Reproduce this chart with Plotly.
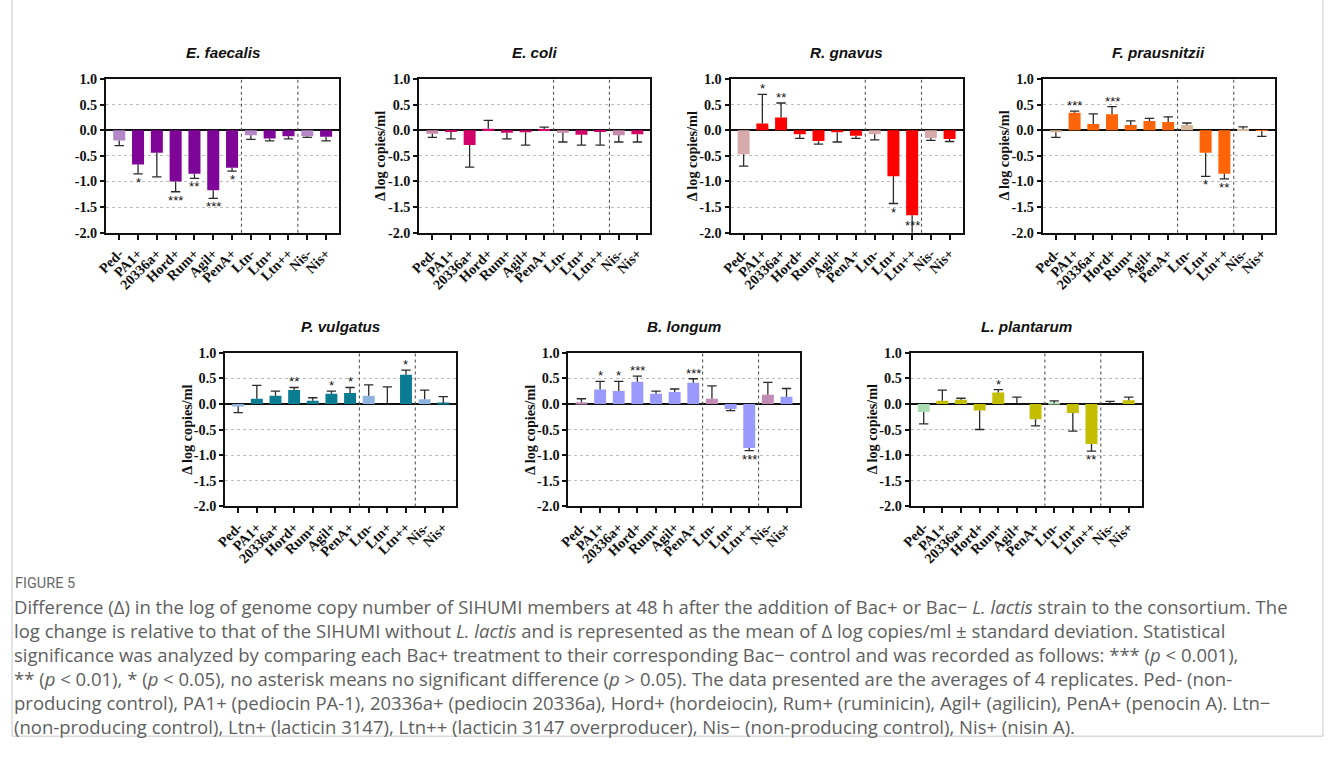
import plotly.graph_objects as go

W, H = 1328, 758

categories = ["Ped-", "PA1+", "20336a+", "Hord+", "Rum+", "Agil+", "PenA+",
              "Ltn-", "Ltn+", "Ltn++", "Nis-", "Nis+"]
is_control = [True, False, False, False, False, False, False,
              True, False, False, True, False]
y_tick_vals = [-2.0, -1.5, -1.0, -0.5, 0.0, 0.5, 1.0]
y_tick_text = ["-2.0", "-1.5", "-1.0", "-0.5", "0.0", "0.5", "1.0"]
group_breaks = [6.5, 9.5]

species = ["E. faecalis", "E. coli", "R. gnavus", "F. prausnitzii",
           "P. vulgatus", "B. longum", "L. plantarum"]

ef_mean = [-0.20, -0.67, -0.44, -1.00, -0.85, -1.17, -0.73, -0.10, -0.16, -0.12, -0.12, -0.13]
ef_sd = [0.10, 0.18, 0.47, 0.20, 0.09, 0.16, 0.07, 0.08, 0.05, 0.05, 0.02, 0.08]
ef_sig = ["", "*", "", "***", "**", "***", "*", "", "", "", "", ""]

ec_mean = [-0.07, -0.03, -0.29, 0.03, -0.05, -0.04, 0.02, -0.05, -0.09, -0.03, -0.10, -0.08]
ec_sd = [0.07, 0.14, 0.43, 0.16, 0.12, 0.25, 0.04, 0.18, 0.20, 0.26, 0.13, 0.15]
ec_sig = ["", "", "", "", "", "", "", "", "", "", "", ""]

rg_mean = [-0.47, 0.13, 0.25, -0.08, -0.21, -0.04, -0.11, -0.08, -0.90, -1.66, -0.15, -0.17]
rg_sd = [0.23, 0.57, 0.28, 0.08, 0.06, 0.19, 0.05, 0.11, 0.53, 0.40, 0.05, 0.05]
rg_sig = ["", "*", "**", "", "", "", "", "", "*", "***", "", ""]

fp_mean = [-0.04, 0.34, 0.12, 0.31, 0.10, 0.18, 0.16, 0.10, -0.44, -0.85, 0.02, -0.01]
fp_sd = [0.10, 0.03, 0.20, 0.15, 0.08, 0.05, 0.10, 0.04, 0.46, 0.10, 0.045, 0.11]
fp_sig = ["", "***", "", "***", "", "", "", "", "*", "**", "", ""]

pv_mean = [-0.05, 0.10, 0.16, 0.27, 0.06, 0.20, 0.21, 0.16, 0.00, 0.57, 0.09, 0.01]
pv_sd = [0.12, 0.26, 0.09, 0.05, 0.06, 0.05, 0.11, 0.21, 0.33, 0.09, 0.18, 0.13]
pv_sig = ["", "", "", "**", "", "*", "*", "", "", "*", "", ""]

bl_mean = [0.03, 0.28, 0.25, 0.43, 0.20, 0.23, 0.41, 0.10, -0.10, -0.86, 0.18, 0.14]
bl_sd = [0.07, 0.16, 0.19, 0.11, 0.05, 0.06, 0.08, 0.25, 0.03, 0.05, 0.24, 0.16]
bl_sig = ["", "*", "*", "***", "", "", "***", "", "", "***", "", ""]

lp_mean = [-0.16, 0.06, 0.08, -0.13, 0.22, 0.00, -0.30, 0.01, -0.18, -0.78, 0.00, 0.07]
lp_sd = [0.23, 0.21, 0.03, 0.37, 0.06, 0.13, 0.13, 0.05, 0.35, 0.14, 0.05, 0.06]
lp_sig = ["", "", "", "", "*", "", "", "", "", "**", "", ""]

means = [ef_mean, ec_mean, rg_mean, fp_mean, pv_mean, bl_mean, lp_mean]
sds = [ef_sd, ec_sd, rg_sd, fp_sd, pv_sd, bl_sd, lp_sd]
sigs = [ef_sig, ec_sig, rg_sig, fp_sig, pv_sig, bl_sig, lp_sig]

main_colors = ["#7E0597", "#D4006A", "#FF0000", "#FF6408", "#0B7D93", "#9A9AFC", "#C4BE00"]
ctrl_colors = ["#B488C7", "#C98BAB", "#D7ABAB", "#D8B89A", "#8EB3E0", "#C08CB5", "#A9DDB2"]

# panel placement in target-picture pixels: (left, right, top, bottom)
panels = [
    (104, 337, 78, 232), (417, 648, 78, 232), (728, 960, 78, 232), (1040, 1272, 78, 232),
    (223, 454, 352, 506), (566, 797, 352, 506), (908, 1139, 352, 506),
]
show_ytitle = [False, True, True, True, True, True, True]

SERIF = "Liberation Serif, Times New Roman, serif"
SANS = "Liberation Sans, Arial, sans-serif"

# the rendered page appears slightly inset / scaled in the photograph; compensate
OX, OY, SX, SY = 9.0, 7.0, 0.991, 0.980
FS = 1 / 0.985


def px(x):
    return ((x - OX) / SX) / W


def py(y):
    return 1 - ((y - OY) / SY) / H


fig = go.Figure()
annotations = []
shapes = []
layout_axes = {}

for k in range(7):
    idx = k + 1
    xa = "x" if idx == 1 else f"x{idx}"
    ya = "y" if idx == 1 else f"y{idx}"
    xname = "xaxis" if idx == 1 else f"xaxis{idx}"
    yname = "yaxis" if idx == 1 else f"yaxis{idx}"
    left, right, top, bottom = panels[k]
    m, s, sg = means[k], sds[k], sigs[k]
    xs = list(range(len(categories)))
    colors = [ctrl_colors[k] if c else main_colors[k] for c in is_control]

    fig.add_trace(go.Bar(x=xs, y=m, width=0.64, marker=dict(color=colors, line=dict(width=0)),
                         xaxis=xa, yaxis=ya, showlegend=False))

    ex, ey = [], []
    for i, (mv, sv) in enumerate(zip(m, s)):
        d = 1 if mv >= 0 else -1
        end = mv + d * sv
        ex += [i, i, None, i - 0.25, i + 0.25, None]
        ey += [mv, end, None, end, end, None]
        if sg[i]:
            if d > 0:
                ystar, anchor, shift = end, "bottom", -4
            else:
                ystar, anchor, shift = end, "top", 1
            if ystar < -1.9:
                ystar, anchor, shift = -2.0, "bottom", -2
            annotations.append(dict(x=i, y=ystar, xref=xa, yref=ya, text=sg[i], showarrow=False,
                                    yanchor=anchor, xanchor="center",
                                    font=dict(family=SANS, size=13 * FS, color="#111"),
                                    yshift=shift))
    fig.add_trace(go.Scatter(x=ex, y=ey, mode="lines", line=dict(color="#2A2A2A", width=1.3),
                             xaxis=xa, yaxis=ya, showlegend=False, hoverinfo="skip"))

    layout_axes[xname] = dict(domain=[px(left), px(right)], anchor=ya, range=[-0.7, 11.7],
                              tickmode="array", tickvals=xs, ticktext=categories, tickangle=-45,
                              ticks="outside", ticklen=5, tickwidth=1.8, tickcolor="#111",
                              showline=True, linecolor="#111", linewidth=2, mirror=True,
                              showgrid=False, zeroline=False,
                              tickfont=dict(family=SERIF, size=14 * FS, color="#111", weight="bold"))
    layout_axes[yname] = dict(domain=[py(bottom), py(top)], anchor=xa, range=[-2.0, 1.0],
                              tickmode="array", tickvals=y_tick_vals, ticktext=y_tick_text,
                              ticks="outside", ticklen=4, tickwidth=1.8, tickcolor="#111",
                              showline=True, linecolor="#111", linewidth=2, mirror=True,
                              showgrid=True, gridcolor="#BDBDBD", griddash="dot", gridwidth=1,
                              zeroline=True, zerolinecolor="#111", zerolinewidth=1.6,
                              tickfont=dict(family=SERIF, size=14 * FS, color="#111", weight="bold"))

    for b in group_breaks:
        shapes.append(dict(type="line", xref=xa, yref=f"{ya} domain", x0=b, x1=b, y0=0, y1=1,
                           line=dict(color="#555", width=1.1, dash="dot")))

    annotations.append(dict(x=px((left + right) / 2), y=py(top - 26), xref="paper", yref="paper",
                            text=f"<b><i>{species[k]}</i></b>", showarrow=False,
                            xanchor="center", yanchor="middle",
                            font=dict(family=SANS, size=15 * FS, color="#111")))
    if show_ytitle[k]:
        annotations.append(dict(x=px(left - 39), y=py((top + bottom) / 2), xref="paper", yref="paper",
                                text="<b>Δ log copies/ml</b>", showarrow=False, textangle=-90,
                                xanchor="center", yanchor="middle",
                                font=dict(family=SERIF, size=14 * FS, color="#111")))

# caption
caption_lines = [
    "Difference (Δ) in the log of genome copy number of SIHUMI members at 48 h after the addition of Bac+ or Bac− <i>L. lactis</i> strain to the consortium. The",
    "log change is relative to that of the SIHUMI without <i>L. lactis</i> and is represented as the mean of Δ log copies/ml ± standard deviation. Statistical",
    "significance was analyzed by comparing each Bac+ treatment to their corresponding Bac− control and was recorded as follows: *** (<i>p</i> &lt; 0.001),",
    "** (<i>p</i> &lt; 0.01), * (<i>p</i> &lt; 0.05), no asterisk means no significant difference (<i>p</i> &gt; 0.05). The data presented are the averages of 4 replicates. Ped- (non-",
    "producing control), PA1+ (pediocin PA-1), 20336a+ (pediocin 20336a), Hord+ (hordeiocin), Rum+ (ruminicin), Agil+ (agilicin), PenA+ (penocin A). Ltn−",
    "(non-producing control), Ltn+ (lacticin 3147), Ltn++ (lacticin 3147 overproducer), Nis− (non-producing control), Nis+ (nisin A).",
]
annotations.append(dict(x=px(11), y=py(583), xref="paper", yref="paper", text="FIGURE 5",
                        showarrow=False, xanchor="left", yanchor="middle",
                        font=dict(family="Roboto, sans-serif", size=14.5, color="#6A6A6A")))
for j, line in enumerate(caption_lines):
    annotations.append(dict(x=px(10), y=py(606 + 24 * j), xref="paper", yref="paper", text=line,
                            showarrow=False, xanchor="left", yanchor="middle",
                            font=dict(family="Open Sans, sans-serif", size=18.5, color="#5E5E5E")))

# outer frame (page box)
shapes.append(dict(type="rect", xref="paper", yref="paper", x0=px(10), x1=px(1320), y0=py(736), y1=py(-5),
                   line=dict(color="#C8C8C8", width=1), fillcolor="rgba(0,0,0,0)", layer="below"))

fig.update_layout(width=W, height=H, margin=dict(l=0, r=0, t=0, b=0),
                  paper_bgcolor="white", plot_bgcolor="white", bargap=0.36,
                  annotations=annotations, shapes=shapes, showlegend=False, **layout_axes)

fig.write_html("out.html", config={"displayModeBar": False},
               post_script="document.body.style.margin='0';document.body.style.overflow='hidden';")
